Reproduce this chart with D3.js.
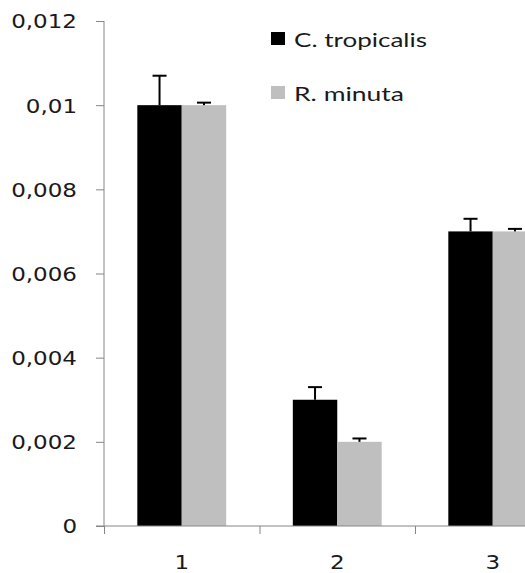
<!DOCTYPE html>
<html>
  <head>
    <meta charset=utf-8>
    <title>Bars</title>
    <style>
      body{ margin:0; background:#fff; }
      .tick-label{ font-family:"DejaVu Sans", Verdana, sans-serif; font-size:19px; fill:#1a1a1a; }
      .legend-label{ font-family:Lato, "Open Sans", sans-serif; font-size:20px; fill:#1a1a1a; }
    </style>
  </head>
  <body>
    <script src="https://d3js.org/d3.v7.min.js"></script>
    <script>
      // data
      var categories = ["1", "2", "3"];
      var series = ["C. tropicalis", "R. minuta"];
      var tropicalis = [0.010, 0.0030, 0.0070];
      var tropicalisErr = [0.0007, 0.0003, 0.0003];
      var minuta = [0.010, 0.0020, 0.0070];
      var minutaErr = [0.00006, 0.00008, 0.00006];
      var yTicks = [0, 0.002, 0.004, 0.006, 0.008, 0.01, 0.012];
      var colors = ["#000000", "#bfbfbf"];

      var width = 525, height = 573;
      var plotLeft = 104, plotTop = 21, plotBottom = 526, bandW = 155.5;

      var svg = d3.select("body").append("svg")
        .attr("width", width)
        .attr("height", height);

      var x0 = d3.scaleBand().domain(categories)
        .range([plotLeft, plotLeft + bandW * categories.length]);
      var off = x0.bandwidth() * 0.75 / 3.5;
      var x1 = d3.scaleBand().domain(series)
        .range([off, x0.bandwidth() - off]);
      var y = d3.scaleLinear().domain([0, 0.012]).range([plotBottom, plotTop]);

      // the original is stretched sideways a little
      function stretch(sel, k){
        sel.each(function(){
          var w = this.getComputedTextLength();
          d3.select(this).attr("textLength", w * k).attr("lengthAdjust", "spacingAndGlyphs");
        });
      }

      var rows = [];
      categories.forEach(function(c, i){
        rows.push({cat: c, s: series[0], v: tropicalis[i], e: tropicalisErr[i], col: colors[0]});
        rows.push({cat: c, s: series[1], v: minuta[i], e: minutaErr[i], col: colors[1]});
      });

      svg.append("g").selectAll("rect").data(rows).enter()
        .append("rect")
          .attr("x", function(d){ return x0(d.cat) + x1(d.s); })
          .attr("y", function(d){ return y(d.v); })
          .attr("width", x1.bandwidth())
          .attr("height", function(d){ return y(0) - y(d.v); })
          .style("fill", function(d){ return d.col; });

      // error bars (upper only)
      var err = svg.append("g").selectAll("g").data(rows).enter().append("g")
        .style("stroke", "#000").style("stroke-width", 2);
      err.append("line")
        .attr("x1", function(d){ return x0(d.cat) + x1(d.s) + x1.bandwidth() / 2; })
        .attr("x2", function(d){ return x0(d.cat) + x1(d.s) + x1.bandwidth() / 2; })
        .attr("y1", function(d){ return y(d.v); })
        .attr("y2", function(d){ return y(d.v + d.e); });
      err.append("line")
        .attr("x1", function(d){ return x0(d.cat) + x1(d.s) + x1.bandwidth() / 2 - 7; })
        .attr("x2", function(d){ return x0(d.cat) + x1(d.s) + x1.bandwidth() / 2 + 7; })
        .attr("y1", function(d){ return y(d.v + d.e); })
        .attr("y2", function(d){ return y(d.v + d.e); });

      // y axis
      var yAxis = d3.axisLeft(y).tickValues(yTicks).tickSize(8)
        .tickFormat(function(d){ return d === 0 ? "0" : String(+d.toFixed(3)).replace(".", ","); });
      var gy = svg.append("g").attr("transform", "translate(" + plotLeft + ",0)").call(yAxis);
      gy.attr("font-family", null).attr("font-size", null);
      gy.select(".domain").attr("stroke", "#868686").attr("d", "M0," + plotTop + "V" + plotBottom);
      gy.selectAll(".tick line").attr("stroke", "#868686");
      gy.selectAll(".tick text").attr("class", "tick-label")
        .attr("x", -27).attr("dy", "0.36em");
      stretch(gy.selectAll(".tick text"), 1.21);

      // x axis: ticks on category boundaries, labels at centres
      var xEdges = d3.scaleLinear().domain([0, categories.length])
        .range([plotLeft, plotLeft + bandW * categories.length]);
      var gx = svg.append("g").attr("transform", "translate(0," + plotBottom + ")")
        .call(d3.axisBottom(xEdges).tickValues([0, 1, 2]).tickSize(8).tickFormat(""));
      gx.select(".domain").attr("stroke", "#868686")
        .attr("d", "M" + (plotLeft - 8) + ",0H" + width);
      gx.selectAll(".tick line").attr("stroke", "#868686");

      var xl = svg.append("g").selectAll("text").data(categories).enter()
        .append("text").attr("class", "tick-label")
          .attr("x", function(d){ return x0(d) + x0.bandwidth() / 2; })
          .attr("y", 569)
          .attr("text-anchor", "middle")
          .text(function(d){ return d; });
      stretch(xl, 1.21);

      // legend
      var leg = svg.append("g").selectAll("g").data(series).enter().append("g")
        .attr("transform", function(d, i){ return "translate(271," + (32 + i * 54) + ")"; });
      leg.append("rect").attr("width", 14).attr("height", 13)
        .style("fill", function(d, i){ return colors[i]; });
      var lt = leg.append("text").attr("class", "legend-label")
        .attr("x", 23).attr("y", 14.5)
        .text(function(d){ return d; });
      lt.each(function(d, i){
        d3.select(this).attr("textLength", i === 0 ? 133 : 110).attr("lengthAdjust", "spacingAndGlyphs");
      });
    </script>
  </body>
</html>
